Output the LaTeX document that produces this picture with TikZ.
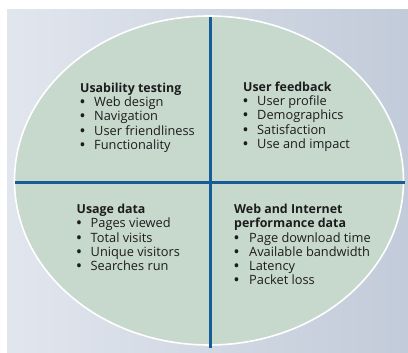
\documentclass[tikz,border=0pt]{standalone}
\usepackage{fontspec}
\setmainfont{Open Sans}
\usetikzlibrary{shapes.geometric}
\begin{document}
\begin{tikzpicture}[x=1pt,y=1pt,
  txt/.style={inner sep=0pt,anchor=base west,text=textcol,font=\fontsize{12.8}{14}\selectfont},
  ttl/.style={txt,font=\fontsize{12.4}{14}\selectfont\bfseries},
  bul/.style={inner sep=0pt,anchor=base,text=textcol,font=\fontsize{13}{14}\selectfont\bfseries},
  divider/.style={draw=lineblue,line width=3pt}]
\definecolor{bgleft}{HTML}{E1E6EE}
\definecolor{bgright}{HTML}{C2CBD9}
\definecolor{ellfill}{HTML}{C7D8CD}
\definecolor{lineblue}{HTML}{165C97}
\definecolor{textcol}{HTML}{1C1C1C}
\useasboundingbox (0,0) rectangle (408,353);
\fill[white] (0,0) rectangle (408,353);
\shade[left color=bgleft,right color=bgright] (7,0) rectangle (408,343);
\node[draw=white,line width=1.6pt,fill=ellfill,ellipse,minimum width=389pt,minimum height=329pt,inner sep=0pt] (ell) at (209,172.5) {};
\coordinate (vtop) at (210,336);
\coordinate (vbot) at (210,5);
\coordinate (hleft) at (15,170);
\coordinate (hright) at (405,170);
\draw[divider] (vtop) -- (vbot);
\draw[divider] (hleft) -- (hright);
% Q1
\node[ttl] (q1t) at (80,{353-92.5}) {Usability testing};
\foreach \t [count=\i] in {Web design,Navigation,User friendliness,Functionality}{
  \node[bul] (q1b\i) at (82.5,{353-92.5-14.2*\i}) {•};
  \node[txt] (q1i\i) at (94,{353-92.5-14.2*\i}) {\t};
}
% Q2
\node[ttl] (q2t) at (243,{353-91.5}) {User feedback};
\foreach \t [count=\i] in {User profile,Demographics,Satisfaction,Use and impact}{
  \node[bul] (q2b\i) at (245.5,{353-91.5-14.2*\i}) {•};
  \node[txt] (q2i\i) at (257,{353-91.5-14.2*\i}) {\t};
}
% Q3
\node[ttl] (q3t) at (76.5,{353-213.7}) {Usage data};
\foreach \t [count=\i] in {Pages viewed,Total visits,Unique visitors,Searches run}{
  \node[bul] (q3b\i) at (79,{353-213.7-14.2*\i}) {•};
  \node[txt] (q3i\i) at (90.5,{353-213.7-14.2*\i}) {\t};
}
% Q4
\node[ttl] (q4t) at (234,{353-213.7}) {Web and Internet};
\node[ttl] (q4t2) at (234,{353-213.7-14.2}) {performance data};
\foreach \t [count=\i] in {Page download time,Available bandwidth,Latency,Packet loss}{
  \node[bul] (q4b\i) at (236.5,{353-213.7-14.2-14.2*\i}) {•};
  \node[txt] (q4i\i) at (249,{353-213.7-14.2-14.2*\i}) {\t};
}
\end{tikzpicture}
\end{document}
